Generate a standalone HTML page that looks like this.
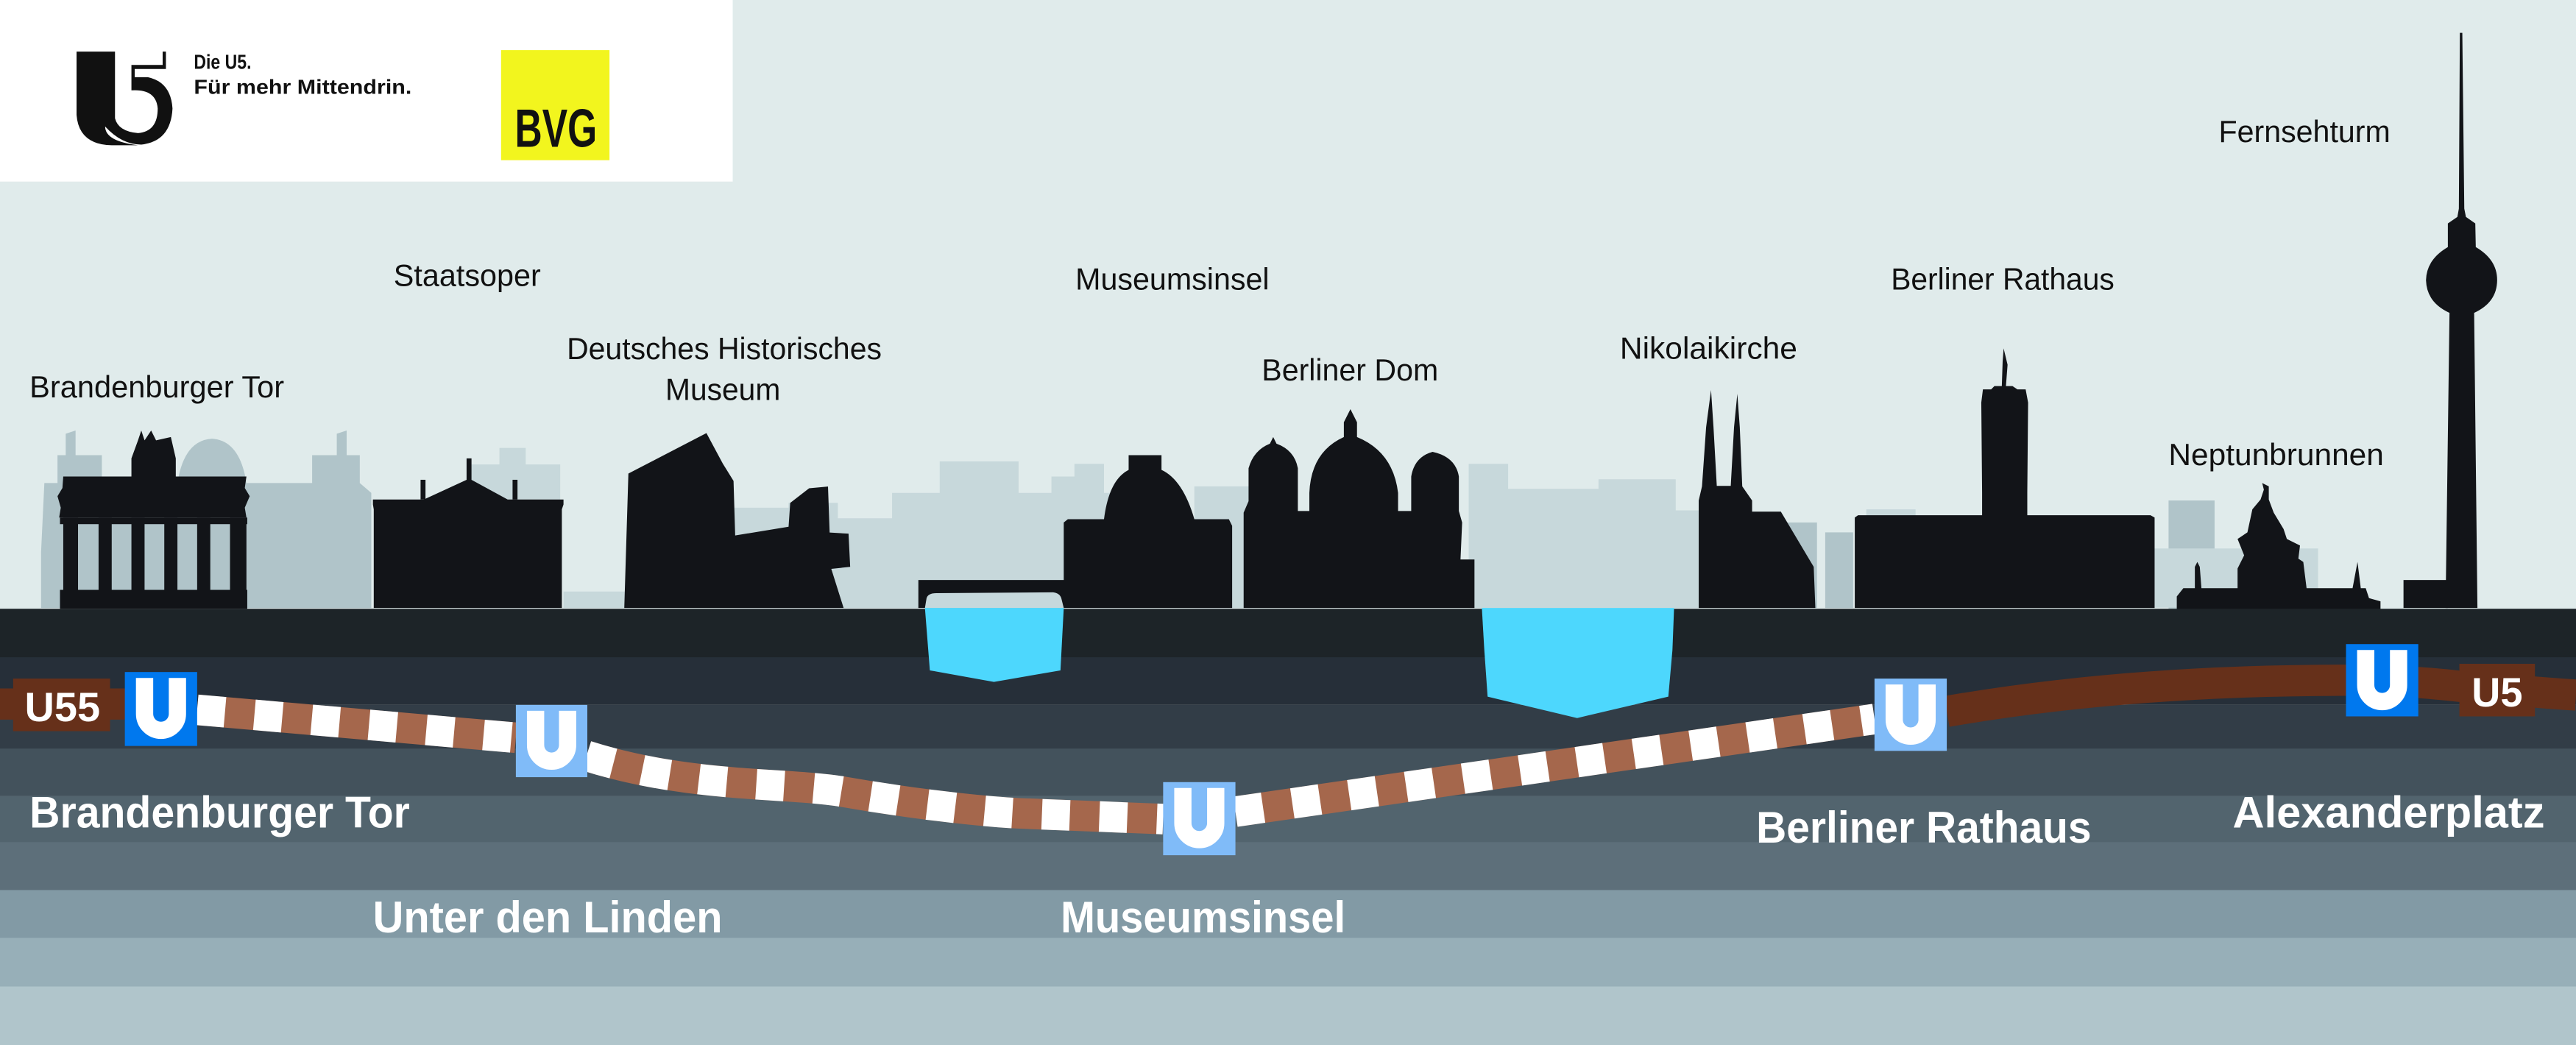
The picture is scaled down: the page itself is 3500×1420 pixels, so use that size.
<!DOCTYPE html>
<html><head><meta charset="utf-8"><style>
html,body{margin:0;padding:0;background:#e0ebeb;}
svg{display:block;}
text{font-family:"Liberation Sans",sans-serif;}
</style></head><body>
<svg width="3500" height="1420" viewBox="0 0 1568 636" preserveAspectRatio="none" xmlns="http://www.w3.org/2000/svg">
<rect x="0" y="0" width="1568" height="636" fill="#e0ebeb"/>
<rect x="0" y="0" width="446" height="110.5" fill="#ffffff"/>
<path d="M46.6 31.4 H70 V62 L64 77 Q74 88 86 88 Q104 86 105 66 Q104 50 90 47 L82 47 V42 H101 V31.4 H99 V39.5 H80 V55 Q95 54 96 66 Q96 80 84 81 Q72 80 70 72 L70 31.4 Z M46.6 31.4 V70 Q48 88 68 88.4 L84 88.4 Q64 86 64 77 L70 62 V31.4 Z" fill="#111"/>
<text x="118" y="41.8" font-size="12.5" font-weight="bold" fill="#111" textLength="35" lengthAdjust="spacingAndGlyphs">Die U5.</text>
<text x="118" y="57.2" font-size="12.5" font-weight="bold" fill="#111" textLength="132.6" lengthAdjust="spacingAndGlyphs">Für mehr Mittendrin.</text>
<rect x="305" y="30.5" width="66" height="67" fill="#f2f51e"/>
<text x="313.4" y="89.3" font-size="33" font-weight="bold" fill="#111" textLength="50" lengthAdjust="spacingAndGlyphs">BVG</text>

<g fill="#b0c4c9">
<path d="M25 370 V336 L27 294 H35 V277 H40 V264 L46 262 V277 H62 V294 H108 Q112 268 129 267 Q146 268 150 294 H190 V277 H205 V264 L211 262 V277 H219 V294 L226 300 V370 Z"/>
<rect x="1320" y="304.6" width="28" height="66"/>
<rect x="1111" y="324" width="17" height="46"/>
<rect x="1084" y="318" width="22" height="52"/>
</g>
<g fill="#c7d8db">
<path d="M287 370 V282.7 H304 V272.6 H320 V282.7 H341 V370 Z"/>
<rect x="343" y="360" width="40" height="10"/>
<path d="M447 370 V309 H480 V306 H510 V315.4 H543 V300 H572 V280.8 H620 V300 H640 V290 H654 V282.3 H672 V300 H690 V370 Z"/>
<path d="M894 370 V282.3 H918 V297.5 H931 V297.5 H952 V297.5 H973 V291.7 H1020 V310.6 H1034 V370 Z"/>
<rect x="1136" y="310" width="30" height="60"/>
<rect x="1311" y="333.8" width="100" height="36"/>
<rect x="727" y="296" width="35" height="74"/>
</g>

<g fill="#121418">
<path d="M80 279 L84 268 L86 262 L88 268 L92 262 L95 268 L104 266 L107 279 L107 290 H150 L149 297 L152 302 L149 309 L150 315 H36 L37 309 L35 302 L38 297 L38.5 290 H80 Z"/>
<rect x="36.5" y="315" width="114" height="4"/>
<rect x="36.5" y="359" width="114" height="11.5"/>
<rect x="38.5" y="315" width="9" height="45"/>
<rect x="60" y="315" width="8" height="45"/>
<rect x="80" y="315" width="8" height="45"/>
<rect x="100" y="315" width="8" height="45"/>
<rect x="120" y="315" width="8" height="45"/>
<rect x="140" y="315" width="10" height="45"/>
<path d="M227.5 370 V310 L227 307 V304 H258 L284 292 V279 H287 V292 L309 304 H343 V307 L342 310 V370 Z"/>
<rect x="256" y="292" width="3" height="12"/>
<rect x="312" y="292" width="3" height="12"/>
<path d="M380 370 L382.5 288.2 L430 263.6 L440 282.2 L446.5 292.7 L447.5 325.9 L480 320.6 L481 306.1 L492.5 297.2 L504 296.1 L505 324.1 L516.5 324.8 L517.5 345 L506 346.2 L513.5 370 Z"/>
<rect x="559" y="353" width="89" height="17"/>
<path d="M647.5 370 V318 L650 316 H672 Q675 292 687 286 V277 H707 V286 Q720 292 727 316 H748 L750 320 V370 Z"/>
<path d="M757 370 V312 L760 305 V285 Q763 274 773 270 L775 266 L777 270 Q788 274 790 285 V311 H797 V300 Q798 275 818 266 V257 L822 249 L826 257 V266 Q848 275 851 300 V311 H859 V290 Q861 278 872 275 Q886 278 888 290 V311 L890 318 L889 340.5 H897.5 V370 Z"/>
<path d="M1034 370 V304.6 L1036 296 L1038.5 260 L1041.5 237.4 L1043 260 L1045 295.7 H1053.5 L1055.5 260 L1057.5 239.7 L1059 260 L1060.5 296 L1066.5 304.6 V311.4 H1084 L1104 345 L1105 370 Z"/>
<path d="M1129 370 V315 L1131 313.6 H1206.5 V300 L1206 245 L1207 237 H1212 L1214 235 H1218.5 L1219 220 L1219.6 212 L1222 222 L1221 235 H1225 L1228 237 H1233 L1234.5 245 L1234 300 V313.6 H1309 L1311.5 315 V370 Z"/>
<path d="M1325 371 V363 L1329 358 H1336 L1336 345 L1337.5 342 L1339 345 L1340 358 H1362 L1362 346 L1366 338 L1362 328 L1368 324 L1371 310 L1376 304 L1378 298 L1377 294 L1381 296 L1381 304 L1384 312 L1390 322 L1392 328 L1400 332 L1399 340 L1402 342 L1404 358 H1432 L1435 342 L1437 358 H1440 L1442 364 L1449 366 V371 Z"/>
<path d="M1497.3 20 L1498.8 20 L1500 127 L1501 132 L1506.7 136 L1507 150.4 Q1520 158 1520 170.4 Q1520 184 1506 190.4 L1508 370 H1488.6 L1491 190.4 Q1477 184 1476.7 170.4 Q1477 158 1490 150.4 L1490 136 L1495.8 132 L1496.7 127 Z"/>
<rect x="1463" y="353" width="27" height="17"/>
</g>
<path d="M563 370 L564 364 Q565 361 570 361 L641 360.5 Q645 361 646 364 L647.5 370 Z" fill="#c6d8dc"/>

<rect x="0" y="370.5" width="1568" height="30" fill="#1d2428"/>
<rect x="0" y="400" width="1568" height="29" fill="#262f39"/>
<rect x="0" y="429" width="1568" height="27" fill="#323d47"/>
<rect x="0" y="455.6" width="1568" height="29" fill="#43525c"/>
<rect x="0" y="484.3" width="1568" height="28.5" fill="#52646e"/>
<rect x="0" y="512.5" width="1568" height="29.5" fill="#5d6f7a"/>
<rect x="0" y="541.7" width="1568" height="29.5" fill="#829aa5"/>
<rect x="0" y="570.8" width="1568" height="30" fill="#97afb8"/>
<rect x="0" y="600.4" width="1568" height="36" fill="#b0c5cb"/>

<path d="M563 370 H647.5 L645.5 408 L605 415 L566 408 Z" fill="#4dd7fd"/>
<path d="M902 370 H1019 L1018 395.7 L1015.5 424 L960 437 L905.5 424 L903.5 395.7 Z" fill="#4dd7fd"/>

<path d="M0 428.5 H80" stroke="#66301a" stroke-width="19" fill="none"/>
<g fill="none" stroke-width="18.6">
<path d="M120 432 L314 449 M357 460 C420 480 480 476 514 482 C560 490 600 494 620 495 L708 498.5 M752 494 L1141 437.6" stroke="#a5674c"/>
<path d="M120 432 L314 449 M357 460 C420 480 480 476 514 482 C560 490 600 494 620 495 L708 498.5 M752 494 L1141 437.6" stroke="#ffffff" stroke-dasharray="17 18"/>
<path d="M1185 433 C1260 420 1340 414 1428 414 C1450 414 1475 415 1500 418 C1530 420 1550 422 1568 423" stroke="#66301a" stroke-width="19"/>
</g>

<rect x="8" y="413" width="59" height="32" fill="#66301a"/>
<text x="15" y="439" font-size="25" font-weight="bold" fill="#fff" textLength="46" lengthAdjust="spacingAndGlyphs">U55</text>
<rect x="1497" y="404" width="46" height="32" fill="#66301a"/>
<text x="1504.5" y="430" font-size="25" font-weight="bold" fill="#fff" textLength="31" lengthAdjust="spacingAndGlyphs">U5</text>

<g>
<rect x="76" y="409" width="44" height="45" fill="#0078ee"/>
<path d="M88 412.6 V434.5 A10 10 0 0 0 108 434.5 V412.6" stroke="#fff" stroke-width="10.5" fill="none"/>
<rect x="314" y="429" width="43.5" height="44" fill="#80bbf8"/>
<path d="M326 432.6 V453.5 A9.75 9.75 0 0 0 345.5 453.5 V432.6" stroke="#fff" stroke-width="10.5" fill="none"/>
<rect x="708" y="476" width="44" height="44.5" fill="#80bbf8"/>
<path d="M720 479.6 V501 A10 10 0 0 0 740 501 V479.6" stroke="#fff" stroke-width="10.5" fill="none"/>
<rect x="1141" y="413" width="44" height="44" fill="#80bbf8"/>
<path d="M1153 416.6 V438 A10 10 0 0 0 1173 438 V416.6" stroke="#fff" stroke-width="10.5" fill="none"/>
<rect x="1428" y="392" width="44" height="44" fill="#0078ee"/>
<path d="M1440 395.6 V417 A10 10 0 0 0 1460 417 V395.6" stroke="#fff" stroke-width="10.5" fill="none"/>
</g>

<g font-size="18.5" fill="#111">
<text x="18" y="241.9" textLength="155" lengthAdjust="spacingAndGlyphs">Brandenburger Tor</text>
<text x="239.6" y="174" textLength="89.6" lengthAdjust="spacingAndGlyphs">Staatsoper</text>
<text x="345" y="218.5" textLength="191.7" lengthAdjust="spacingAndGlyphs">Deutsches Historisches</text>
<text x="405" y="243.4" textLength="70" lengthAdjust="spacingAndGlyphs">Museum</text>
<text x="654.6" y="176.2" textLength="118" lengthAdjust="spacingAndGlyphs">Museumsinsel</text>
<text x="768" y="231.5" textLength="107.5" lengthAdjust="spacingAndGlyphs">Berliner Dom</text>
<text x="986" y="218.4" textLength="108" lengthAdjust="spacingAndGlyphs">Nikolaikirche</text>
<text x="1151" y="176.3" textLength="136" lengthAdjust="spacingAndGlyphs">Berliner Rathaus</text>
<text x="1320" y="283" textLength="131" lengthAdjust="spacingAndGlyphs">Neptunbrunnen</text>
<text x="1350.5" y="86.4" textLength="104.5" lengthAdjust="spacingAndGlyphs">Fernsehturm</text>
</g>

<g font-size="27" font-weight="bold" fill="#fff">
<text x="18" y="503.7" textLength="231.5" lengthAdjust="spacingAndGlyphs">Brandenburger Tor</text>
<text x="227" y="567.5" textLength="212.7" lengthAdjust="spacingAndGlyphs">Unter den Linden</text>
<text x="645.6" y="567.5" textLength="173.4" lengthAdjust="spacingAndGlyphs">Museumsinsel</text>
<text x="1069" y="512.9" textLength="204" lengthAdjust="spacingAndGlyphs">Berliner Rathaus</text>
<text x="1359" y="503.7" textLength="190" lengthAdjust="spacingAndGlyphs">Alexanderplatz</text>
</g>
</svg>
</body></html>
